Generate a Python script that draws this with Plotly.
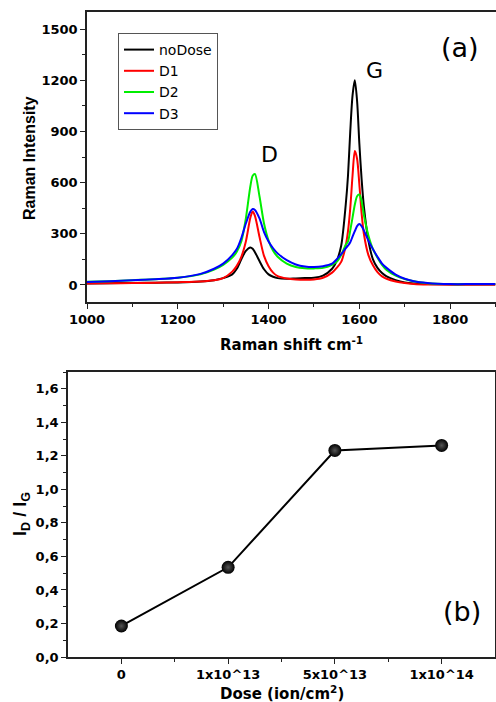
import plotly.graph_objects as go

# ---------------- data ----------------
SHIFT = [1000, 1050, 1100, 1150, 1200, 1250, 1280, 1300, 1320, 1330, 1340, 1350,
         1360, 1365, 1370, 1380, 1390, 1400, 1410, 1420, 1440, 1460, 1480, 1500,
         1520, 1540, 1550, 1560, 1570, 1575, 1580, 1585, 1590, 1595, 1600, 1605,
         1610, 1620, 1630, 1640, 1650, 1660, 1680, 1700, 1720, 1750, 1800, 1850, 1900]

NODOSE = [8, 10, 12, 13, 15, 20, 28, 40, 62, 95, 150, 200,
          220, 212, 192, 140, 92, 62, 48, 40, 36, 38, 40, 42,
          55, 95, 140, 230, 470, 640, 900, 1110, 1200, 1080, 830, 620,
          460, 260, 150, 100, 70, 50, 28, 14, 8, 5, 3, 3, 3]

D1 = [8, 10, 11, 13, 16, 20, 27, 40, 78, 112, 165, 255,
      395, 430, 405, 282, 170, 110, 72, 52, 38, 32, 30, 32,
      42, 72, 100, 135, 230, 315, 450, 640, 785, 740, 590, 420,
      300, 175, 115, 75, 50, 36, 20, 11, 6, 3, 2, 2, 2]

D2 = [18, 22, 28, 33, 42, 62, 90, 118, 160, 195, 255, 390,
      580, 640, 650, 520, 360, 260, 200, 165, 125, 105, 98, 97,
      100, 118, 135, 175, 235, 255, 320, 395, 470, 520, 530, 490,
      410, 290, 210, 160, 118, 88, 55, 35, 22, 10, 5, 5, 5]

D3 = [17, 21, 27, 33, 42, 65, 95, 125, 175, 210, 275, 360,
      430, 445, 440, 390, 310, 255, 215, 185, 145, 120, 108, 105,
      110, 125, 150, 180, 215, 230, 250, 283, 315, 345, 357, 345,
      320, 260, 210, 165, 125, 100, 60, 36, 22, 12, 5, 5, 5]

SERIES_NAMES = ["noDose", "D1", "D2", "D3"]
SERIES_COLORS = ["#000000", "#ff0000", "#00ee00", "#0000ff"]

DOSE_LABELS = ["0", "1x10^13", "5x10^13", "1x10^14"]
RATIO = [0.185, 0.535, 1.232, 1.262]

# ---------------- figure ----------------
W, H = 496, 702
FRAME = "#222222"
TICKFONT = dict(family="DejaVu Sans", size=13, color="black", weight="bold")

fig = go.Figure()

for name, col, ys in zip(SERIES_NAMES, SERIES_COLORS, [NODOSE, D1, D2, D3]):
    fig.add_trace(go.Scatter(x=SHIFT, y=ys, name=name, mode="lines",
                             line=dict(color=col, width=2, shape="spline", smoothing=0.8),
                             xaxis="x", yaxis="y"))

fig.add_trace(go.Scatter(x=list(range(len(DOSE_LABELS))), y=RATIO, mode="lines+markers",
                         showlegend=False,
                         line=dict(color="black", width=2),
                         marker=dict(size=13, color="#000000",
                                     line=dict(width=0),
                                     gradient=dict(type="radial", color="#555555")),
                         xaxis="x2", yaxis="y2"))


def px_x(p):
    return p / W


def px_y(p):
    return 1 - p / H


common = dict(showline=True, linecolor=FRAME, linewidth=1.5, mirror=True,
              ticks="outside", ticklen=5, tickwidth=1.2, tickcolor=FRAME,
              showgrid=False, zeroline=False, tickfont=TICKFONT, automargin=False)

fig.update_layout(
    width=W, height=H,
    margin=dict(l=0, r=0, t=0, b=0),
    paper_bgcolor="white", plot_bgcolor="white",
    separators=",.",
    xaxis=dict(domain=[px_x(87), 0.999], anchor="y", range=[1000, 1900],
               tickmode="linear", tick0=1000, dtick=200,
               minor=dict(ticks="outside", ticklen=3, dtick=100, tickcolor=FRAME),
               **common),
    yaxis=dict(domain=[px_y(302), px_y(12)], anchor="x", range=[-100, 1600],
               tickmode="linear", tick0=0, dtick=300,
               minor=dict(ticks="outside", ticklen=3, dtick=150, tick0=0, tickcolor=FRAME),
               **common),
    xaxis2=dict(domain=[px_x(68), px_x(495)], anchor="y2", range=[-0.5, 3.5],
                tickmode="array", tickvals=list(range(len(DOSE_LABELS))), ticktext=DOSE_LABELS,
                minor=dict(ticks="outside", ticklen=3, tickmode="array",
                           tickvals=[0.5, 1.5, 2.5], tickcolor=FRAME),
                **common),
    yaxis2=dict(domain=[px_y(657), px_y(372)], anchor="x2", range=[0, 1.7],
                tickmode="linear", tick0=0, dtick=0.2, tickformat=".1f",
                minor=dict(ticks="outside", ticklen=3, dtick=0.1, tick0=0, tickcolor=FRAME),
                **common),
    legend=dict(x=px_x(118), y=px_y(33), xanchor="left", yanchor="top",
                bgcolor="white", bordercolor="#555555", borderwidth=1,
                font=dict(family="DejaVu Sans", size=14, color="black"),
                tracegroupgap=0),
)

ann = [
    dict(text="Raman Intensity", x=px_x(30), y=px_y(158), textangle=-90,
         font=dict(family="Liberation Sans, Arial", size=16, color="black", weight="bold")),
    dict(text="Raman shift cm<sup>-1</sup>", x=px_x(291), y=px_y(344),
         font=dict(family="DejaVu Sans", size=15, color="black", weight="bold")),
    dict(text="I<sub>D</sub> / I<sub>G</sub>", x=px_x(21), y=px_y(514), textangle=-90,
         font=dict(family="Liberation Sans, Arial", size=18, color="black", weight="bold")),
    dict(text="Dose (ion/cm<sup>2</sup>)", x=px_x(282), y=px_y(693),
         font=dict(family="DejaVu Sans", size=15, color="black", weight="bold")),
    dict(text="(a)", x=px_x(460), y=px_y(48),
         font=dict(family="DejaVu Sans", size=27, color="black")),
    dict(text="(b)", x=px_x(462), y=px_y(611),
         font=dict(family="DejaVu Sans", size=27, color="black")),
    dict(text="G", x=px_x(374), y=px_y(70),
         font=dict(family="DejaVu Sans", size=22, color="black")),
    dict(text="D", x=px_x(269), y=px_y(154),
         font=dict(family="DejaVu Sans", size=22, color="black")),
]
for a in ann:
    a.update(xref="paper", yref="paper", showarrow=False, xanchor="center", yanchor="middle")
fig.update_layout(annotations=ann)

fig.write_html("out.html")
